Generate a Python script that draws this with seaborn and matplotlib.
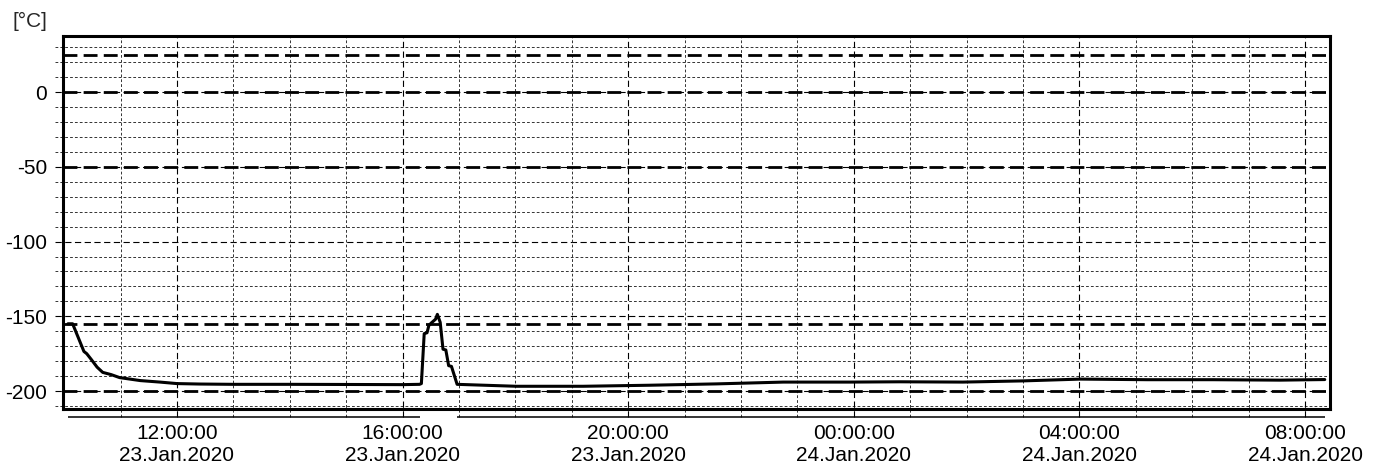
import pandas as pd
import numpy as np
import matplotlib
matplotlib.use('Agg')
import matplotlib.pyplot as plt
import matplotlib.dates as mdates
import seaborn as sns

times = ['2020-01-23 10:04', '2020-01-23 10:09', '2020-01-23 10:21', '2020-01-23 10:24',
         '2020-01-23 10:29', '2020-01-23 10:35', '2020-01-23 10:41', '2020-01-23 10:50',
         '2020-01-23 10:59', '2020-01-23 11:21', '2020-01-23 11:42', '2020-01-23 12:00',
         '2020-01-23 12:24', '2020-01-23 13:00', '2020-01-23 14:00', '2020-01-23 15:04',
         '2020-01-23 16:00', '2020-01-23 16:18', '2020-01-23 16:20', '2020-01-23 16:23',
         '2020-01-23 16:26', '2020-01-23 16:28', '2020-01-23 16:31', '2020-01-23 16:35',
         '2020-01-23 16:37', '2020-01-23 16:40', '2020-01-23 16:43', '2020-01-23 16:46',
         '2020-01-23 16:49', '2020-01-23 16:52', '2020-01-23 16:58', '2020-01-23 17:22',
         '2020-01-23 18:01', '2020-01-23 19:12', '2020-01-23 20:23', '2020-01-23 21:34',
         '2020-01-23 22:45', '2020-01-23 23:56', '2020-01-24 00:49', '2020-01-24 01:56',
         '2020-01-24 03:00', '2020-01-24 04:01', '2020-01-24 05:12', '2020-01-24 06:22',
         '2020-01-24 07:33', '2020-01-24 08:21']
temps = [-155, -155, -173.5, -175,
         -179, -184, -187.5, -189,
         -191, -193, -194, -195,
         -195.3, -195.5, -195.5, -195.6,
         -195.7, -195.5, -195, -161.6,
         -161, -156, -154.2, -152,
         -148.7, -154, -172, -172.5,
         -183, -183.5, -195.5, -196,
         -196.8, -196.8, -196.1, -195.2,
         -194, -194, -193.8, -194,
         -193.2, -192, -192.4, -192.4,
         -192.7, -192.3]

# Alarm / limit lines
limits = [25, 0, -50, -155, -200]

# Periods shown by the bar under the axis
bar_periods = [('2020-01-23 10:04', '2020-01-23 16:18'),
               ('2020-01-23 16:58', '2020-01-24 08:21')]

df = pd.DataFrame({'time': pd.to_datetime(times), 'temp': temps})

sns.set_style('white')
plt.rcParams['font.family'] = ['Liberation Sans', 'DejaVu Sans']
plt.rcParams['lines.scale_dashes'] = False
fs = 15

W, H = 1383, 468
fig = plt.figure(figsize=(W / 100, H / 100), dpi=100)
ax = fig.add_axes([63 / W, 1 - 409 / H, (1330 - 63) / W, (409 - 36) / H])

x0 = pd.Timestamp('2020-01-23 09:58:45')
x1 = pd.Timestamp('2020-01-24 08:26:35')
ax.set_xlim(x0, x1)
ax.set_ylim(-212, 37.5)

# horizontal grid
for v in range(-210, 40, 10):
    if v % 50 == 0:
        ax.axhline(v, xmin=-0.0063, xmax=1, clip_on=False, color='black',
                   lw=0.8, dashes=(4.5, 2.5), zorder=1)
    else:
        ax.axhline(v, xmin=-0.0063, xmax=1, clip_on=False, color='#333333',
                   lw=0.7, dashes=(2.0, 1.5), zorder=1)

# vertical grid (hourly)
hours = pd.date_range('2020-01-23 11:00', '2020-01-24 08:00', freq='h')
for h in hours:
    if h.hour % 4 == 0:
        ax.axvline(h, ymin=-0.021, ymax=1, clip_on=False, color='black',
                   lw=0.8, dashes=(4.5, 2.5), zorder=1)
    else:
        ax.axvline(h, ymin=-0.021, ymax=1, clip_on=False, color='#333333',
                   lw=0.7, dashes=(2.0, 1.5), zorder=1)

# limit lines
for lim in limits:
    ax.axhline(lim, color='black', lw=2.0, dashes=(10, 4.5), zorder=2)

sns.lineplot(data=df, x='time', y='temp', color='black', lw=2.2, ax=ax, zorder=3)

# bar under the axis
trans = ax.get_xaxis_transform()
for a, b in bar_periods:
    ax.plot([pd.Timestamp(a), pd.Timestamp(b)], [-0.0215, -0.0215], transform=trans,
            color='black', lw=1.1, clip_on=False, solid_capstyle='butt')

ax.set_yticks([-200, -150, -100, -50, 0])
ax.set_yticklabels(['-200', '-150', '-100', '-50', '0'])
ax.set_xticks(pd.date_range('2020-01-23 12:00', '2020-01-24 08:00', freq='4h'))
ax.xaxis.set_major_formatter(mdates.DateFormatter('%H:%M:%S\n%d.%b.%Y'))
ax.tick_params(axis='both', length=0, labelsize=fs, colors='black')
ax.tick_params(axis='x', pad=11)
ax.tick_params(axis='y', pad=11.5)
for lab in ax.get_xticklabels():
    lab.set_horizontalalignment('center')
ax.set_xlabel('')
ax.set_ylabel('')

for s in ax.spines.values():
    s.set_visible(True)
    s.set_color('black')
    s.set_linewidth(2.2)
    s.set_zorder(4)

fig.text(12 / W, 1 - 21 / H, '[°C]', fontsize=fs, va='center', ha='left')

fig.savefig('out.png', dpi=100)
